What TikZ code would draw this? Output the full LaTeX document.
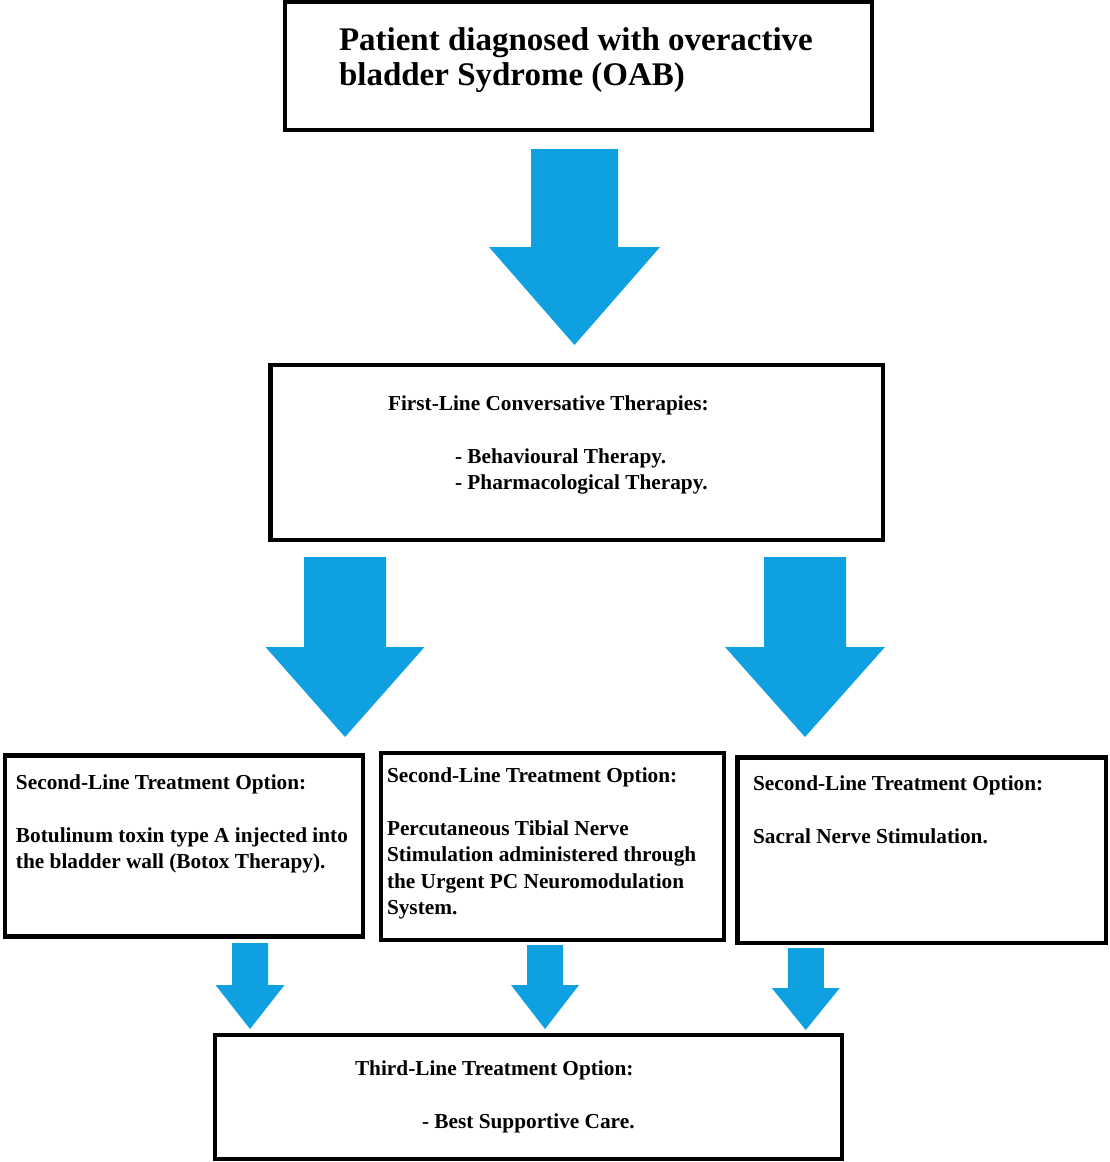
\documentclass[tikz,border=0pt]{standalone}
\usepackage{fontspec}
\setmainfont{Liberation Serif}
\usetikzlibrary{calc}

\definecolor{arrowblue}{RGB}{14,160,224}

% box contents: width, height, top pad, left pad, text
\newcommand{\boxbody}[5]{\parbox[c][#2pt][t]{#1pt}{\vspace*{#3pt}\raggedright\leftskip=#4pt\strut #5}}

% fat vertical arrow: start, tip, shaft half width, head half width, head length
\newcommand{\fatarrow}[5]{%
  \fill[arrowblue] let \p1=#1, \p2=#2 in
    (\x1-#3pt,\y1) -- (\x1+#3pt,\y1) -- (\x1+#3pt,\y2+#5pt) -- (\x1+#4pt,\y2+#5pt)
    -- (\x1,\y2) -- (\x1-#4pt,\y2+#5pt) -- (\x1-#3pt,\y2+#5pt) -- cycle;}

\tikzset{
  box/.style = {draw, line width=4.5pt, inner sep=0pt, outer sep=0pt, anchor=north west},
  bigtext/.style = {font=\fontsize{33}{35}\selectfont\bfseries},
  smalltext/.style = {font=\fontsize{21.3}{26.5}\selectfont\bfseries}
}

\begin{document}
\begin{tikzpicture}[x=1pt,y=-1pt]
      \useasboundingbox (0,0) rectangle (1110,1162);
      % diagnosis
      \node[box, bigtext] (top) at (285,2)
        {\boxbody{587}{128}{23.5}{54}{Patient diagnosed with overactive\\ bladder Sydrome (OAB)}};
      % first line
      \node[box, smalltext] (first) at (270.5,365)
        {\boxbody{612.5}{175}{26.5}{117.5}{First-Line Conversative Therapies:\\[26.5pt]
         \hspace*{67pt}- Behavioural Therapy.\\ \hspace*{67pt}- Pharmacological Therapy.}};
      % second line
      \node[box, smalltext] (secA) at (5,755.5)
        {\boxbody{358}{181}{15}{11}{Second-Line Treatment Option:\\[26.5pt]
         Botulinum toxin type A injected into\\ the bladder wall (Botox Therapy).}};
      \node[box, smalltext] (secB) at (381,753)
        {\boxbody{343}{187}{10.5}{6}{Second-Line Treatment Option:\\[26.5pt]
         Percutaneous Tibial Nerve\\ Stimulation administered through\\
         the Urgent PC Neuromodulation\\ System.}};
      \node[box, smalltext] (secC) at (737.5,757.5)
        {\boxbody{368.5}{185.5}{14}{15.5}{Second-Line Treatment Option:\\[26.5pt]
         Sacral Nerve Stimulation.}};
      % third line
      \node[box, smalltext] (third) at (215,1035)
        {\boxbody{627}{124}{21.5}{140}{Third-Line Treatment Option:\\[26.5pt]
         \hspace*{67pt}- Best Supportive Care.}};
      % arrows
      \fatarrow{($(top.south)+(-4,19)$)}{($(first.north)+(0,-20)$)}{43.5}{85.5}{98}
      \fatarrow{($(first.south west)+(74.5,17)$)}{($(secA.north)+(0,-18.5)$)}{41}{79.5}{90}
      \fatarrow{($(first.south east)+(-78,17)$)}{($(secC.north)+(0,-20.5)$)}{41}{80}{90}
      \fatarrow{($(secA.south)+(66,6.5)$)}{($(third.north)+(0,-6)$)}{18}{34.5}{44}
      \fatarrow{($(secB.south)+(-7.5,5)$)}{($(third.north)+(0,-6)$)}{18}{34}{44}
      \fatarrow{($(secC.south)+(-116,5)$)}{($(third.north)+(0,-5)$)}{18}{34}{42}
\end{tikzpicture}
\end{document}
